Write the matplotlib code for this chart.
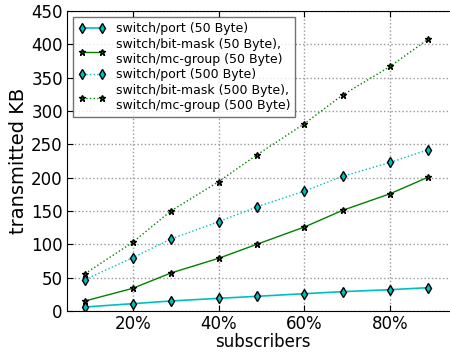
import matplotlib
matplotlib.use('Agg')
import matplotlib.pyplot as plt
from matplotlib.ticker import FuncFormatter

# subscribers out of 45 hosts
subscribers = [4 / 45, 9 / 45, 13 / 45, 18 / 45, 22 / 45, 27 / 45, 31 / 45, 36 / 45, 40 / 45]

port_50 = [6, 11, 15, 19, 22, 26, 29, 32, 35]
bitmask_50 = [15, 34, 57, 79, 100, 126, 151, 176, 201]
port_500 = [47, 80, 108, 134, 156, 180, 202, 223, 242]
bitmask_500 = [56, 103, 150, 194, 234, 281, 324, 367, 408]

labels = [
    'switch/port (50 Byte)',
    'switch/bit-mask (50 Byte),\nswitch/mc-group (50 Byte)',
    'switch/port (500 Byte)',
    'switch/bit-mask (500 Byte),\nswitch/mc-group (500 Byte)',
]

x_ticks = [0.2, 0.4, 0.6, 0.8]
y_ticks = [0, 50, 100, 150, 200, 250, 300, 350, 400, 450]

fig = plt.figure(figsize=(4.5, 3.53), dpi=100)
# axes run past the right edge of the picture, as in the reference crop
ax = fig.add_axes([67 / 450, 42 / 353, 392 / 450, 300 / 353])

ax.plot(subscribers, port_50, color='c', linestyle='-', linewidth=1.2,
        marker='d', markersize=5, markerfacecolor='c', markeredgecolor='k', label=labels[0])
ax.plot(subscribers, bitmask_50, color='g', linestyle='-', linewidth=1,
        marker='*', markersize=5, markerfacecolor='g', markeredgecolor='k', label=labels[1])
ax.plot(subscribers, port_500, color='c', linestyle=':', linewidth=1,
        marker='d', markersize=5, markerfacecolor='c', markeredgecolor='k', label=labels[2])
ax.plot(subscribers, bitmask_500, color='g', linestyle=':', linewidth=1,
        marker='*', markersize=5, markerfacecolor='g', markeredgecolor='k', label=labels[3])

ax.set_xlim(0.047, 0.96)
ax.set_ylim(0, 450)
ax.set_xticks(x_ticks)
ax.set_yticks(y_ticks)
ax.xaxis.set_major_formatter(FuncFormatter(lambda v, p: f'{v * 100:.0f}%'))
ax.tick_params(direction='in', top=True, right=True, labelsize=12, length=4, pad=3)
ax.grid(True, linestyle=':', color='0.6', linewidth=1)

ax.set_xlabel('subscribers', fontsize=12, labelpad=0)
ax.set_ylabel('transmitted KB', fontsize=14, labelpad=2)

leg = ax.legend(loc='upper left', fontsize=9, numpoints=2, fancybox=False,
                borderaxespad=0.5, handlelength=2.2, labelspacing=0.2)
leg.get_frame().set_edgecolor('0.3')

plt.savefig('out.png', dpi=100)
plt.close()
